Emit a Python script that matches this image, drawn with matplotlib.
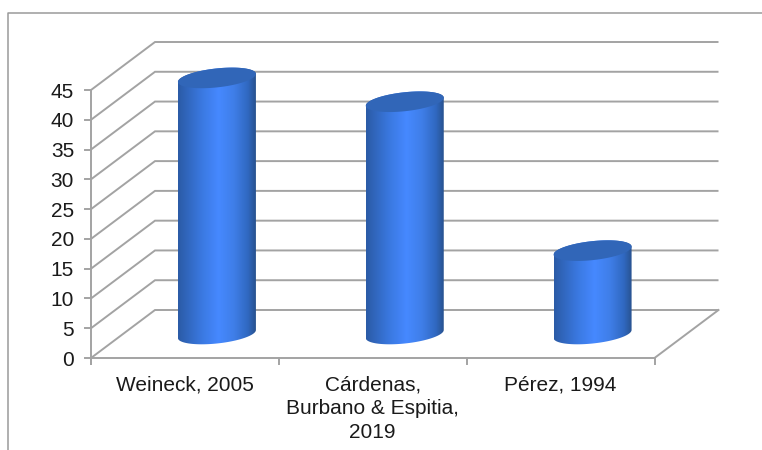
import numpy as np
import matplotlib
matplotlib.use("Agg")
import matplotlib.pyplot as plt
from matplotlib.colors import LinearSegmentedColormap
from matplotlib.lines import Line2D
from matplotlib.patches import Polygon

plt.rcParams['font.family'] = ['Liberation Sans', 'DejaVu Sans']

# --- Data ---
categories = ['Weineck, 2005', 'Cárdenas,\nBurbano & Espitia,\n2019', 'Pérez, 1994']
values = [43, 39, 14]
y_ticks = list(range(0, 50, 5))

W, H = 762, 450
GRID = '#a3a3a3'

fig = plt.figure(figsize=(W / 100, H / 100), dpi=100)
ax = fig.add_axes([91 / W, 1 - 358 / H, 563.5 / W, 268 / H])
ax.set_xlim(0, 3)
ax.set_ylim(0, 45)
ax.axis('off')

# pixel sizes turned into data units
px_x = 3 / 563.5
px_y = 45 / 268
depth_x = 64 * px_x
depth_y = 48 * px_y

# outer frame, only top and left show
fig.add_artist(Line2D([8 / W, 8 / W, 1], [0, 1 - 13 / H, 1 - 13 / H], color='#9a9a9a', lw=1.1))

# walls and grid
for v in y_ticks:
    ax.plot([0, depth_x, 3 + depth_x], [v, v + depth_y, v + depth_y], color=GRID, lw=1.4,
            clip_on=False, zorder=1, solid_capstyle='butt', solid_joinstyle='miter')
    ax.plot([-6 * px_x, 0], [v, v], color=GRID, lw=1.4, clip_on=False, zorder=1)
    ax.text(-17 * px_x, v, str(v), ha='right', va='center_baseline', fontsize=15, color='#1a1a1a')
ax.plot([0, 0], [-6 * px_y, 45], color=GRID, lw=1.4, clip_on=False, zorder=1)
ax.plot([0, 3, 3 + depth_x], [0, 0, depth_y], color=GRID, lw=1.4, clip_on=False, zorder=1)
for i in range(4):
    ax.plot([i, i], [-6 * px_y, 0], color=GRID, lw=1.4, clip_on=False, zorder=1)

# category labels
for i, name in enumerate(categories):
    ax.text(i + 0.5, -2.9, name, ha='center', va='top', fontsize=15, color='#1a1a1a', linespacing=1.33)

# cylinders
cmap = LinearSegmentedColormap.from_list('cyl', [
    (0, '#2b5ba6'), (0.3, '#3a78e0'), (0.52, '#4689ff'), (0.72, '#3f7ee8'), (0.9, '#3068c0'), (1, '#28528f')])
grad = np.linspace(0, 1, 256).reshape(1, -1)
half_w = 39 * px_x
half_h = 9.5 * px_y
tilt = 4 * px_y
t = np.linspace(0, 2 * np.pi, 121)
t_low = np.linspace(np.pi, 2 * np.pi, 61)
t_up = np.linspace(0, np.pi, 61)

for i, v in enumerate(values):
    cx = i + 0.5 + depth_x / 2
    base = depth_y / 2
    top = base + v
    # body: lower half of bottom ellipse, up the side, back along top
    bx = cx + half_w * np.cos(t_low)
    by = base + half_h * np.sin(t_low) + tilt * np.cos(t_low)
    tx = cx + half_w * np.cos(t_up)
    ty = top + half_h * np.sin(t_up) + tilt * np.cos(t_up)
    body = Polygon(np.column_stack([np.r_[bx, tx], np.r_[by, ty]]), closed=True,
                   facecolor='none', edgecolor='none', zorder=3, clip_on=False)
    ax.add_patch(body)
    im = ax.imshow(grad, cmap=cmap, aspect='auto', zorder=3, interpolation='bilinear',
                   extent=[cx - half_w, cx + half_w, base - 12, top + 12])
    # images stop at the axes box unless told otherwise
    im.set_clip_box(fig.bbox)
    im.set_clip_path(body)
    cap = Polygon(np.column_stack([cx + half_w * np.cos(t),
                                   top + half_h * np.sin(t) + tilt * np.cos(t)]),
                  closed=True, facecolor='#3166b8', edgecolor='none', zorder=4, clip_on=False)
    ax.add_patch(cap)

ax.set_xlim(0, 3)
ax.set_ylim(0, 45)
fig.savefig('out.png', dpi=100, facecolor='white')
